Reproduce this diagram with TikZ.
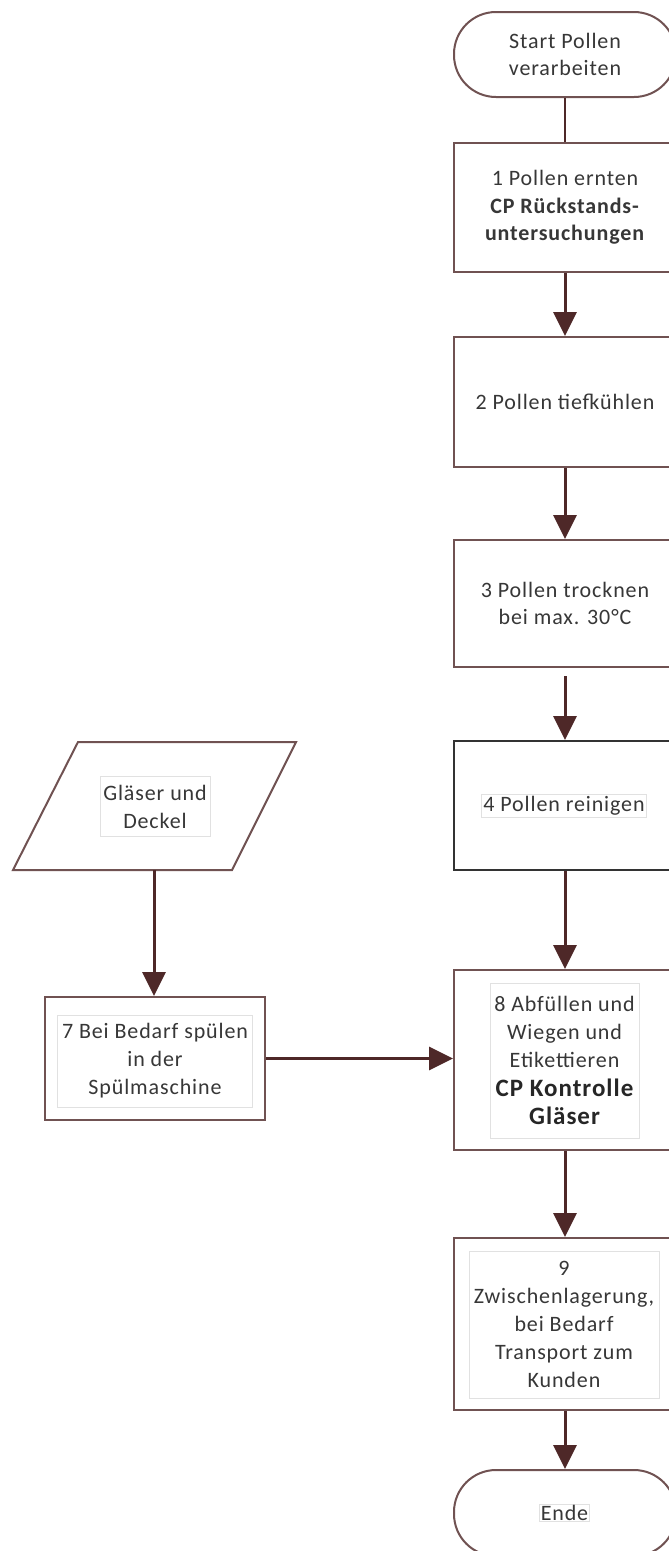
\documentclass[tikz,border=0pt]{standalone}
\usepackage{fontspec}
\setmainfont{Carlito}[LetterSpace=4]
\usetikzlibrary{arrows.meta}
\definecolor{edge}{RGB}{112,82,82}
\definecolor{arr}{RGB}{78,40,40}
\definecolor{txt}{RGB}{55,55,55}
\definecolor{frame}{RGB}{225,225,225}
\tikzset{
  procbox/.style={draw=edge, line width=2pt, fill=white, minimum width=222pt, align=center, text=txt, font=\fontsize{22}{27.5}\selectfont},
  term/.style={procbox, rounded corners=42pt},
  txtframe/.style={draw=frame, line width=0.8pt, fill=white, align=center, text=txt, inner sep=2pt, font=\fontsize{22}{28}\selectfont},
  flow/.style={draw=arr, line width=3pt, -{Triangle[length=24pt,width=23pt]}},
  plain/.style={draw=arr, line width=2.5pt},
}
\begin{document}
\begin{tikzpicture}[x=1pt,y=-1pt]
\useasboundingbox (0,0) rectangle (669,1551);
\begin{scope}
\clip (0,0) rectangle (669,1551);
% right column
\node[term, minimum height=85pt] (st) at (565,54.5) {Start Pollen\\verarbeiten};
\node[procbox, minimum height=129pt] (b1) at (565,207.5) {1 Pollen ernten\\\textbf{CP Rückstands-}\\\textbf{untersuchungen}};
\node[procbox, minimum height=130pt] (b2) at (565,402) {2 Pollen tiefkühlen};
\node[procbox, minimum height=127pt] (b3) at (565,603.5) {3 Pollen trocknen\\bei max. 30°C};
\node[procbox, draw=black!80, minimum height=129pt] (b4) at (565,805.5) {};
\node[txtframe] (t4) at (564,805.5) {4 Pollen reinigen};
\node[procbox, minimum height=180pt] (b8) at (565,1060) {};
\node[txtframe, minimum width=149pt, minimum height=155pt] (t8) at (564.5,1060.5) {8 Abfüllen und\\Wiegen und\\Etikettieren\\[1pt]{\fontsize{25}{31}\selectfont\bfseries\color{black!85} CP Kontrolle}\\{\fontsize{25}{31}\selectfont\bfseries\color{black!85} Gläser}};
\node[procbox, minimum height=172pt] (b9) at (565,1324) {};
\node[txtframe, minimum width=190pt, minimum height=147pt] (t9) at (564,1324.5) {9\\Zwischenlagerung,\\bei Bedarf\\Transport zum\\Kunden};
\node[term, minimum height=86pt] (en) at (565,1513) {};
\node[txtframe, inner sep=1pt] (ten) at (564.5,1513) {Ende};
% left column
\coordinate (pTL) at (78,742);
\coordinate (pTR) at (296,742);
\coordinate (pBR) at (232,870);
\coordinate (pBL) at (13,870);
\draw[draw=edge, line width=2pt, fill=white] (pTL) -- (pTR) -- (pBR) -- (pBL) -- cycle;
\coordinate (pin) at (154,870);
\node[txtframe, minimum width=110pt, minimum height=60pt] (tg) at (155,806.5) {Gläser und\\Deckel};
\node[procbox, minimum width=220pt, minimum height=123pt] (b7) at (155,1058.5) {};
\node[txtframe, minimum width=195pt, minimum height=92pt] (t7) at (155,1061) {7 Bei Bedarf spülen\\in der\\Spülmaschine};
% connectors
\draw[plain] (st.south) -- (b1.north);
\draw[flow] (b1.south) -- (b2.north);
\draw[flow] (b2.south) -- (b3.north);
\draw[flow] ([yshift=-8pt]b3.south) -- (b4.north);
\draw[flow] (b4.south) -- (b8.north);
\draw[flow] (b8.south) -- (b9.north);
\draw[flow] (b9.south) -- (en.north);
\draw[flow] (pin) -- (pin |- b7.north);
\draw[flow] (b7.east) -- (b7.east -| b8.west);
\end{scope}
\end{tikzpicture}
\end{document}
